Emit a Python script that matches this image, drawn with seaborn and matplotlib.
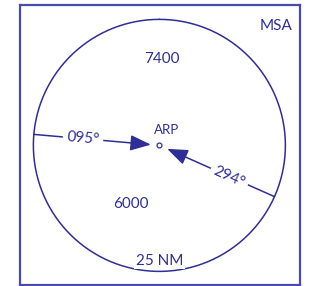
import matplotlib
matplotlib.use("Agg")
import matplotlib.pyplot as plt
import numpy as np
import seaborn as sns

# MSA data
radius_nm = 25
bearings = [95, 294]            # inbound courses to ARP
bearing_labels = ["095°", "294°"]
sector_alts = ["7400", "6000"]
sector_pos = [(0.4, 17.1), (-5.6, -11.7)]   # NM from ARP
title = "MSA"
ref_label = "ARP"
radius_label = "25 NM"

ink = "#2e2e96"
frame = "#4a4aac"

sns.set_theme(style="white")
plt.rcParams["font.family"] = ["Lato", "DejaVu Sans"]

fig = plt.figure(figsize=(3.19, 2.86), dpi=100)
ax = fig.add_axes([20 / 319, 1 / 286, 280 / 319, 280 / 286])
ax.set_xlim(-27.65, 27.9)
ax.set_ylim(-27.7, 27.85)
ax.set_aspect("equal")
ax.set_xticks([])
ax.set_yticks([])
for s in ax.spines.values():
    s.set_color(frame)
    s.set_linewidth(1.6)

# sector circle
t = np.linspace(0, 2 * np.pi, 400)
sns.lineplot(x=radius_nm * np.sin(t), y=radius_nm * np.cos(t), sort=False,
             ax=ax, color=ink, lw=1.1, estimator=None)

# ARP marker
ax.plot(0, 0, "o", ms=3.5, mfc="white", mec=ink, mew=0.9)
ax.text(1.5, 3.0, ref_label, ha="center", va="center", color=ink, fontsize=9.5)

for brg, lab in zip(bearings, bearing_labels):
    d = np.radians(brg)
    ux, uy = np.sin(d), np.cos(d)
    start = -radius_nm
    tip = -1.7
    xs = [start * ux, tip * ux]
    ys = [start * uy, tip * uy]
    ax.annotate("", xy=(xs[1], ys[1]), xytext=(xs[0], ys[0]),
                arrowprops=dict(arrowstyle="-|>,head_length=1.05,head_width=0.4",
                                color=ink, lw=1.1, shrinkA=0, shrinkB=0))
    r_lab = -15.2
    ang = np.degrees(np.arctan2(uy, ux))
    if ang > 90 or ang < -90:
        ang += 180
    ax.text(r_lab * ux, r_lab * uy, lab, ha="center", va="center", color=ink,
            fontsize=11, rotation=ang, rotation_mode="anchor",
            bbox=dict(boxstyle="square,pad=0.25", fc="white", ec="none"))

for alt, (x, y) in zip(sector_alts, sector_pos):
    ax.text(x, y, alt, ha="center", va="center", color=ink, fontsize=11)

ax.text(0, -22.9, radius_label, ha="center", va="center", color=ink, fontsize=11,
        bbox=dict(boxstyle="square,pad=0.1", fc="white", ec="none"))
ax.text(23.2, 23.6, title, ha="center", va="center", color=ink, fontsize=11)

fig.savefig("out.png", dpi=100)
